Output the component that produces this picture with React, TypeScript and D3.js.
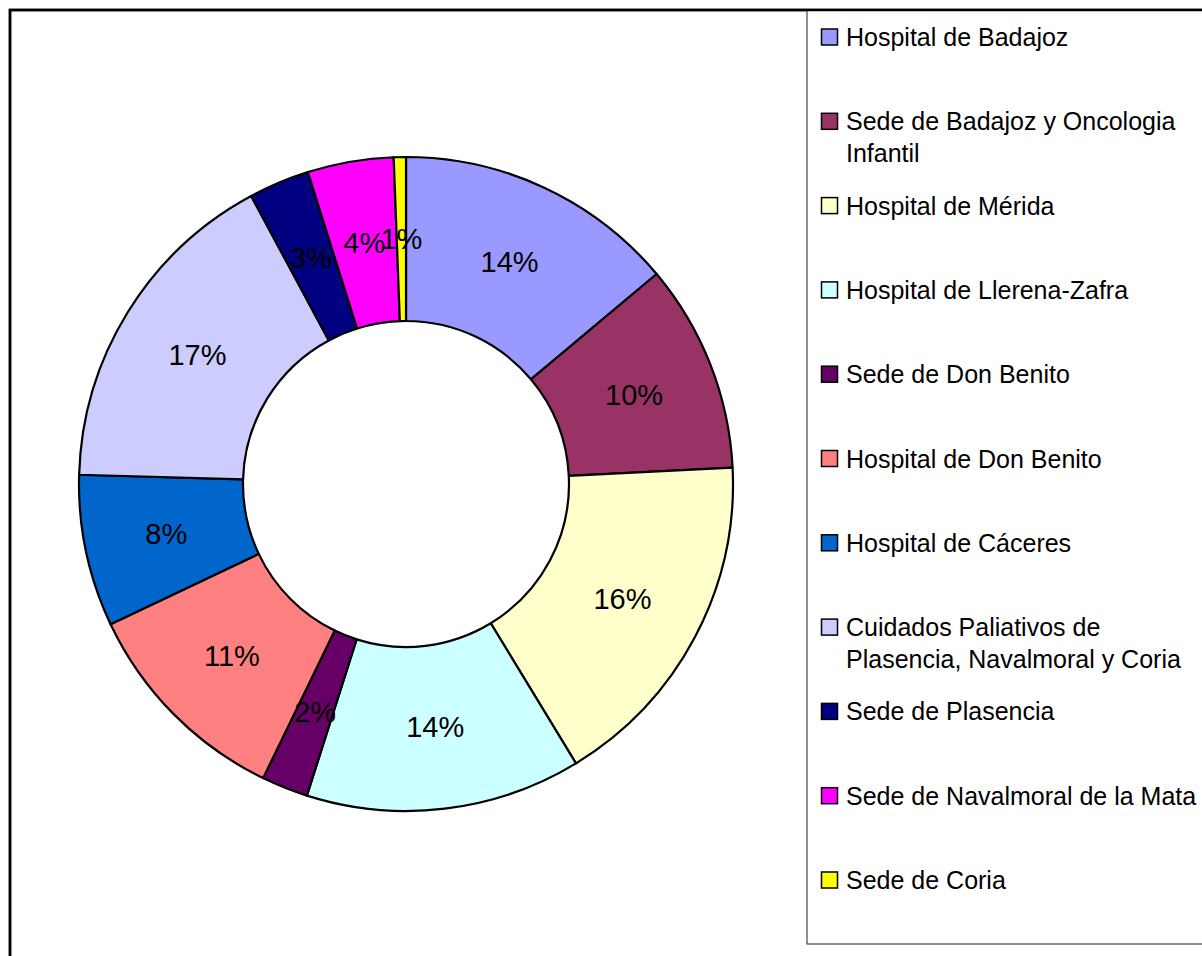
import React from "react";
import * as d3 from "d3";

const categories = [
  "Hospital de Badajoz",
  "Sede de Badajoz y Oncologia Infantil",
  "Hospital de Mérida",
  "Hospital de Llerena-Zafra",
  "Sede de Don Benito",
  "Hospital de Don Benito",
  "Hospital de Cáceres",
  "Cuidados Paliativos de Plasencia, Navalmoral y Coria",
  "Sede de Plasencia",
  "Sede de Navalmoral de la Mata",
  "Sede de Coria",
];
const legendLines = [
  ["Hospital de Badajoz"],
  ["Sede de Badajoz y Oncologia", "Infantil"],
  ["Hospital de Mérida"],
  ["Hospital de Llerena-Zafra"],
  ["Sede de Don Benito"],
  ["Hospital de Don Benito"],
  ["Hospital de Cáceres"],
  ["Cuidados Paliativos de", "Plasencia, Navalmoral y Coria"],
  ["Sede de Plasencia"],
  ["Sede de Navalmoral de la Mata"],
  ["Sede de Coria"],
];
const values = [13.9, 10.3, 17.1, 13.6, 2.3, 10.75, 7.5, 16.7, 3.0, 4.25, 0.6];
const percentLabels = ["14%", "10%", "16%", "14%", "2%", "11%", "8%", "17%", "3%", "4%", "1%"];
const colors = [
  "#9999FF", "#993366", "#FFFFCC", "#CCFFFF", "#660066", "#FF8080",
  "#0066CC", "#CCCCFF", "#000080", "#FF00FF", "#FFFF00",
];

export default function App() {
  const W = 1202, H = 956;
  const cx = 406, cy = 484, rOuter = 327, rInner = 163;
  const pie = d3.pie<number>().sort(null).value((d) => d);
  const arcs = pie(values);
  const arc = d3.arc<d3.PieArcDatum<number>>().innerRadius(rInner).outerRadius(rOuter);
  const labelArc = d3.arc<d3.PieArcDatum<number>>().innerRadius(245).outerRadius(245);
  const font = "Liberation Sans, Arial, sans-serif";
  const rowY = d3.scaleLinear().domain([0, 1]).range([37, 37 + 84.3]);

  return (
    <svg width={W} height={H} style={{ position: "absolute", left: 0, top: 0, background: "#fff" }}>
      <rect x={0} y={0} width={W} height={H} fill="#fff" />
      <rect x={10} y={10} width={W + 20} height={H + 20} fill="none" stroke="#000" strokeWidth={2.5} />
      <g transform={`translate(${cx},${cy})`}>
        {arcs.map((a, i) => (
          <path key={i} d={arc(a) || ""} fill={colors[i]} stroke="#000" strokeWidth={2.2} strokeLinejoin="round" />
        ))}
        {arcs.map((a, i) => {
          const [x, y] = labelArc.centroid(a);
          return (
            <text key={"l" + i} x={x} y={y} textAnchor="middle" dominantBaseline="central"
              fontFamily={font} fontSize={29} fill="#000">
              {percentLabels[i]}
            </text>
          );
        })}
      </g>
      <rect x={807} y={10} width={W} height={934} fill="#fff" stroke="#222" strokeWidth={1} />
      <rect x={10} y={10} width={W + 20} height={H + 20} fill="none" stroke="#000" strokeWidth={2.5} />
      {categories.map((c, i) => {
        const y = rowY(i);
        return (
          <g key={c}>
            <rect x={821.5} y={y - 8} width={16} height={16} fill={colors[i]} stroke="#000" strokeWidth={1.5} />
            {legendLines[i].map((ln, j) => (
              <text key={j} x={846} y={y + j * 32} dominantBaseline="central" fontFamily={font} fontSize={25} fill="#000">
                {ln}
              </text>
            ))}
          </g>
        );
      })}
    </svg>
  );
}
